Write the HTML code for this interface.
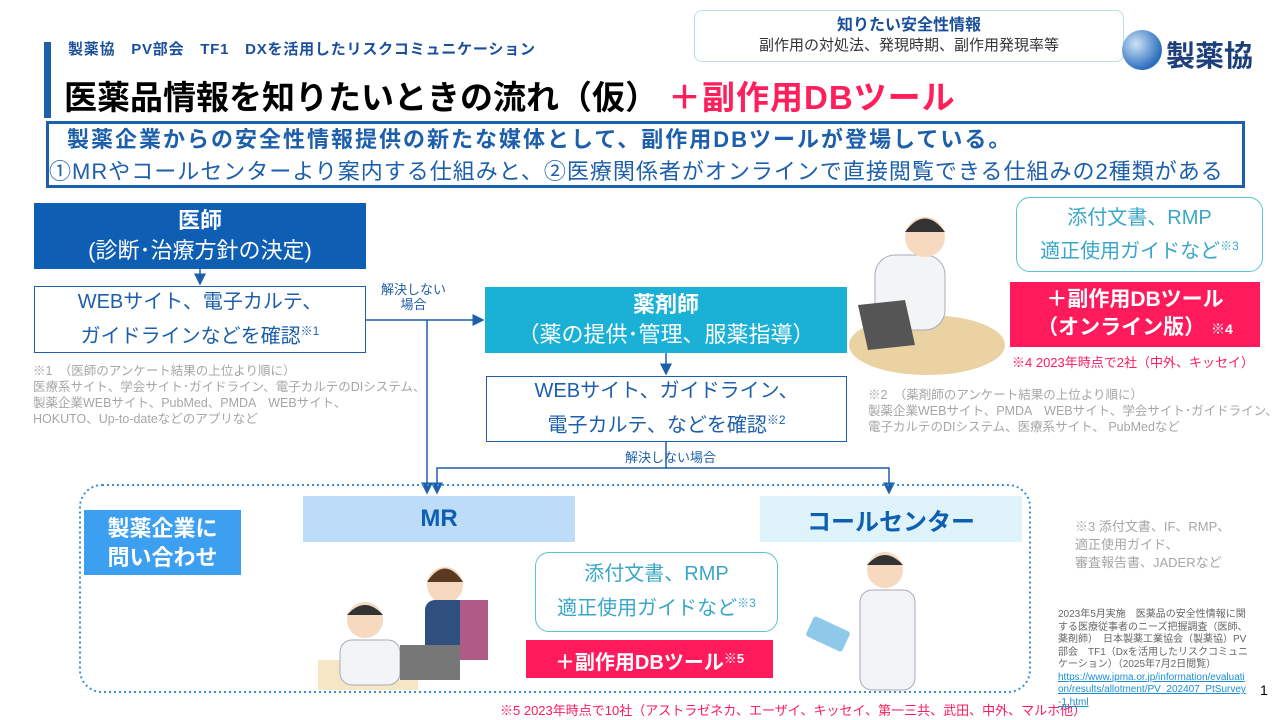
<!DOCTYPE html>
<html><head><meta charset="utf-8"><style>
*{margin:0;padding:0;box-sizing:border-box}
body{width:1280px;height:720px;position:relative;background:#fff;font-family:"Liberation Sans","Noto Sans CJK JP",sans-serif;overflow:hidden}
.a{position:absolute}
.c{display:flex;flex-direction:column;align-items:center;justify-content:center;text-align:center}
.g{color:#a6a6a6;font-size:12.5px;line-height:16px;white-space:nowrap}
</style></head><body>
<div class="a" style="left:44px;top:42px;width:7px;height:76px;background:#1d5fab"></div>
<div class="a" style="left:68px;top:38px;font-size:15px;font-weight:bold;color:#1a4f9c;white-space:nowrap;letter-spacing:0.8px">製薬協　PV部会　TF1　DXを活用したリスクコミュニケーション</div>
<div class="a" style="left:64px;top:71px;font-size:33px;font-weight:bold;color:#000;white-space:nowrap">医薬品情報を知りたいときの流れ（仮）<span style="color:#ff1f5a;margin-left:10px;letter-spacing:1px">＋副作用DBツール</span></div>
<div class="a c" style="left:694px;top:10px;width:430px;height:52px;border:1px solid #bcd9ee;border-radius:8px;color:#1a4f9c;line-height:20px">
<div style="font-weight:bold;font-size:16px">知りたい安全性情報</div><div style="font-size:15px;color:#333">副作用の対処法、発現時期、副作用発現率等</div></div>
<div class="a" style="left:1122px;top:30px;width:40px;height:40px;border-radius:50%;background:radial-gradient(circle at 35% 35%,#cfe3f7,#2c6fbd 70%)"></div>
<div class="a" style="left:1166px;top:33px;font-size:29px;font-weight:bold;color:#1d3f7a">製薬協</div>
<div class="a" style="left:46px;top:121px;width:1199px;height:67px;border:3px solid #1d5fab;font-size:22px;color:#1d5fab;line-height:32px;padding-left:0;white-space:nowrap">
<div style="font-weight:bold;letter-spacing:2px;padding-left:18px">製薬企業からの安全性情報提供の新たな媒体として、副作用DBツールが登場している。</div>
<div style="letter-spacing:1px">①MRやコールセンターより案内する仕組みと、②医療関係者がオンラインで直接閲覧できる仕組みの2種類がある</div></div>

<div class="a c" style="left:34px;top:203px;width:332px;height:66px;background:#0e5fb3;color:#fff;font-size:22px;line-height:30px"><div style="font-weight:bold">医師</div><div>(診断･治療方針の決定)</div></div>
<div class="a c" style="left:34px;top:286px;width:332px;height:67px;border:1.5px solid #1d5fab;color:#1d5fab;font-size:20px;line-height:29px"><div>WEBサイト、電子カルテ、</div><div>ガイドラインなどを確認<sup style="font-size:12px">※1</sup></div></div>
<div class="a g" style="left:33px;top:363px">※1　（医師のアンケート結果の上位より順に）<br>医療系サイト、学会サイト･ガイドライン、電子カルテのDIシステム、<br>製薬企業WEBサイト、PubMed、PMDA　WEBサイト、<br>HOKUTO、Up-to-dateなどのアプリなど</div>
<div class="a" style="left:381px;top:282px;font-size:13px;color:#1d5fab;line-height:15px;text-align:center">解決しない<br>場合</div>

<div class="a c" style="left:485px;top:287px;width:362px;height:66px;background:#1bb1d6;color:#fff;font-size:22px;line-height:30px"><div style="font-weight:bold">薬剤師</div><div>（薬の提供･管理、服薬指導）</div></div>
<div class="a c" style="left:486px;top:376px;width:361px;height:66px;border:1.5px solid #1d5fab;color:#1d5fab;font-size:20px;line-height:29px"><div>WEBサイト、ガイドライン、</div><div>電子カルテ、などを確認<sup style="font-size:12px">※2</sup></div></div>
<div class="a" style="left:625px;top:447px;font-size:13px;color:#1d5fab">解決しない場合</div>
<div class="a g" style="left:868px;top:387px">※2　（薬剤師のアンケート結果の上位より順に）<br>製薬企業WEBサイト、PMDA　WEBサイト、学会サイト･ガイドライン、<br>電子カルテのDIシステム、医療系サイト、 PubMedなど</div>

<svg class="a" style="left:0;top:0" width="1280" height="720">
<defs><marker id="m" markerWidth="8" markerHeight="8" refX="7" refY="4" orient="auto"><path d="M0,0L8,4L0,8z" fill="#1d5fab"/></marker></defs>
<g stroke="#1d5fab" stroke-width="1.5" fill="none">
<line x1="200" y1="269" x2="200" y2="284" marker-end="url(#m)"/>
<line x1="366" y1="320" x2="483" y2="320" marker-end="url(#m)"/>
<line x1="427" y1="320" x2="427" y2="493" marker-end="url(#m)"/>
<line x1="666" y1="353" x2="666" y2="374" marker-end="url(#m)"/>
<polyline points="666,442 666,468 437,468 437,493" marker-end="url(#m)"/>
<polyline points="666,468 889,468 889,493" marker-end="url(#m)"/>
</g>
<rect x="80" y="485" width="950" height="207" rx="22" fill="none" stroke="#3a8fd8" stroke-width="2" stroke-dasharray="2,3"/>
<ellipse cx="927" cy="345" rx="78" ry="30" fill="#ead2a2"/>
<rect x="875" y="255" width="70" height="75" rx="20" fill="#f2f4f6" stroke="#aab" />
<circle cx="925" cy="237" r="20" fill="#f6d9bf"/>
<path d="M905,232 Q925,205 945,232" fill="#333"/>
<polygon points="858,305 905,300 915,345 868,350" fill="#555"/>
<rect x="318" y="660" width="100" height="30" fill="#f6e6c6"/>
<circle cx="445" cy="585" r="18" fill="#f6d9bf"/><path d="M427,582 Q445,555 463,582" fill="#5a3a20"/>
<rect x="425" y="600" width="45" height="60" rx="10" fill="#2f4f7f"/>
<rect x="460" y="600" width="28" height="60" fill="#b05a86"/>
<circle cx="365" cy="620" r="18" fill="#f6d9bf"/><path d="M347,615 Q365,595 383,615" fill="#333"/>
<rect x="340" y="640" width="60" height="45" rx="12" fill="#f2f4f6" stroke="#aab"/>
<rect x="400" y="645" width="60" height="35" fill="#777"/>
<circle cx="885" cy="570" r="18" fill="#f6d9bf"/><path d="M867,565 Q885,545 903,565" fill="#333"/>
<rect x="860" y="590" width="55" height="100" rx="12" fill="#f2f4f6" stroke="#aab"/>
<rect x="808" y="623" width="40" height="22" rx="3" fill="#8fc9ea" transform="rotate(25 828 634)"/>
</svg>

<div class="a c" style="left:1016px;top:197px;width:247px;height:75px;border:1.5px solid #5bc0d8;border-radius:14px;background:#fff;color:#3aa7c9;font-size:20px;line-height:28px"><div>添付文書、RMP</div><div>適正使用ガイドなど<sup style="font-size:12px">※3</sup></div></div>
<div class="a c" style="left:1010px;top:282px;width:250px;height:65px;background:#ff1a5b;color:#fff;font-weight:bold;font-size:21px;line-height:28px"><div>＋副作用DBツール</div><div>（オンライン版） <span style="font-size:14px">※4</span></div></div>
<div class="a" style="left:1012px;top:352px;font-size:13px;color:#ff1a5b;white-space:nowrap">※4  2023年時点で2社（中外、キッセイ）</div>

<div class="a c" style="left:84px;top:510px;width:157px;height:65px;background:#3d9ff0;color:#fff;font-weight:bold;font-size:22px;line-height:29px"><div>製薬企業に</div><div>問い合わせ</div></div>
<div class="a c" style="left:303px;top:496px;width:272px;height:46px;background:#bcdcf7;color:#0e5fb3;font-weight:bold;font-size:24px">MR</div>
<div class="a c" style="left:760px;top:496px;width:262px;height:46px;background:#dff3fa;color:#0e5fb3;font-weight:bold;font-size:24px">コールセンター</div>
<div class="a c" style="left:535px;top:552px;width:243px;height:80px;border:1.5px solid #5bc0d8;border-radius:14px;background:#fff;color:#3aa7c9;font-size:20px;line-height:29px"><div>添付文書、RMP</div><div>適正使用ガイドなど<sup style="font-size:12px">※3</sup></div></div>
<div class="a" style="left:526px;top:640px;width:247px;height:38px;background:#ff1a5b;color:#fff;font-weight:bold;font-size:20px;line-height:38px;text-align:center;white-space:nowrap">＋副作用DBツール<span style="font-size:13px;vertical-align:6px">※5</span></div>
<div class="a" style="left:500px;top:700px;font-size:13px;color:#ff1a5b;white-space:nowrap">※5  2023年時点で10社（アストラゼネカ、エーザイ、キッセイ、第一三共、武田、中外、マルホ他）</div>
<div class="a g" style="left:1075px;top:518px;font-size:13px;line-height:18px">※3  添付文書、IF、RMP、<br>適正使用ガイド、<br>審査報告書、JADERなど</div>
<div class="a" style="left:1058px;top:609px;width:190px;font-size:10px;line-height:12.5px;color:#666">2023年5月実施　医薬品の安全性情報に関する医療従事者のニーズ把握調査（医師、薬剤師）　日本製薬工業協会（製薬協）PV部会　TF1（Dxを活用したリスクコミュニケーション）（2025年7月2日閲覧）<br><span style="color:#1a8fd0;text-decoration:underline;word-break:break-all">https://www.jpma.or.jp/information/evaluation/results/allotment/PV_202407_PtSurvey-1.html</span></div>
<div class="a" style="left:1260px;top:682px;font-size:14px;color:#000">1</div>
</body></html>
